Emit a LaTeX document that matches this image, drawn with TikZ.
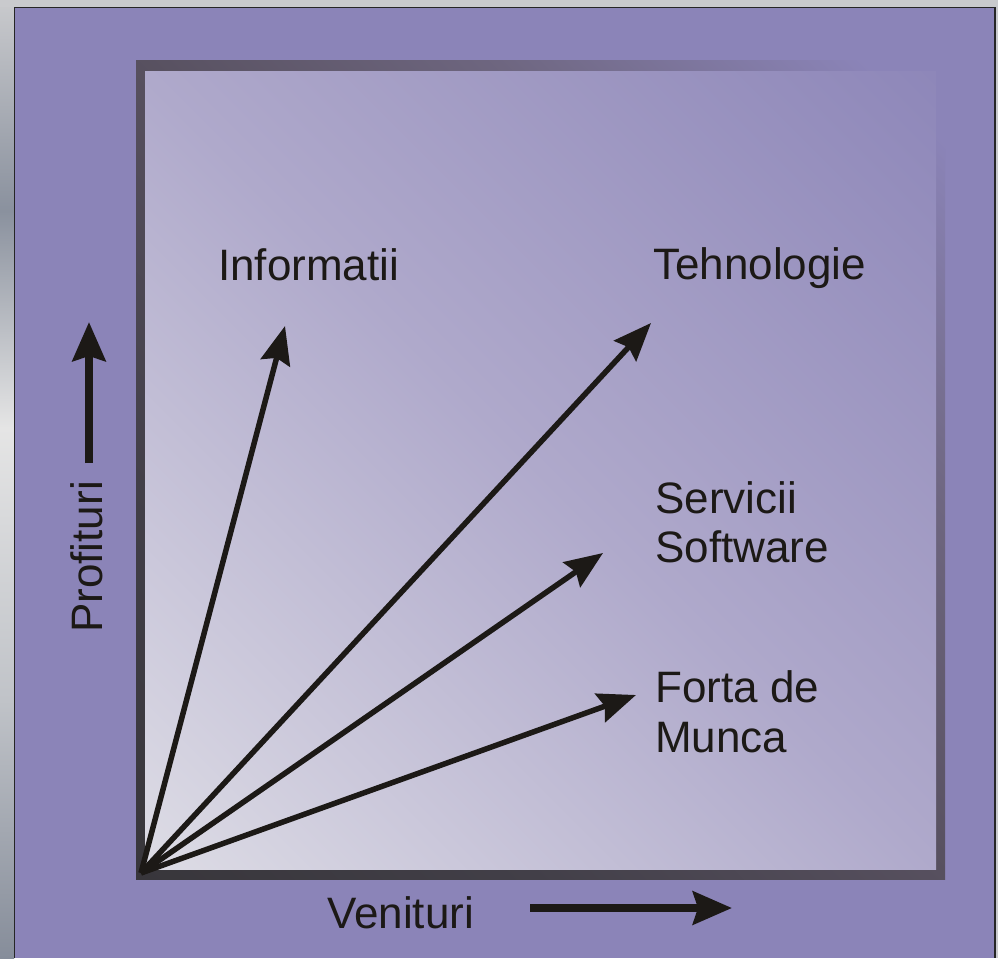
\documentclass[tikz,border=0pt]{standalone}
\usepackage{fontspec}
\setmainfont{Liberation Sans}
\usetikzlibrary{arrows.meta}

\definecolor{bgpurple}{RGB}{139,132,184}
\definecolor{ink}{RGB}{28,25,22}
\definecolor{stripA}{RGB}{201,202,205}
\definecolor{stripB}{RGB}{138,145,158}
\definecolor{stripC}{RGB}{229,229,229}
\definecolor{stripD}{RGB}{216,217,219}
\definecolor{stripE}{RGB}{192,195,200}
\definecolor{stripF}{RGB}{134,141,154}
\definecolor{frameA}{RGB}{56,54,59}
\definecolor{frameB}{RGB}{66,63,72}
\definecolor{frameC}{RGB}{87,80,95}
\definecolor{frameD}{RGB}{110,102,128}
\definecolor{fillA}{RGB}{221,220,229}
\definecolor{fillB}{RGB}{175,169,203}
\definecolor{fillC}{RGB}{142,135,185}

% grey bevel on the left edge
\pgfdeclareverticalshading{sidestrip}{100bp}{%
  color(0bp)=(stripF); color(25bp)=(stripF); color(38.47bp)=(stripE);
  color(47.86bp)=(stripD); color(52.66bp)=(stripC); color(63.99bp)=(stripB);
  color(75bp)=(stripA); color(100bp)=(stripA)}
% frame of the chart, fading out towards the upper right
\pgfdeclarehorizontalshading{framefade}{100bp}{%
  color(0bp)=(frameA); color(14.6bp)=(frameA); color(32bp)=(frameB);
  color(50bp)=(frameC); color(66bp)=(frameD); color(82bp)=(bgpurple);
  color(100bp)=(bgpurple)}
% chart area, light in the lower left corner
\pgfdeclarehorizontalshading{areafade}{100bp}{%
  color(0bp)=(fillA); color(14.6bp)=(fillA); color(50bp)=(fillB);
  color(85.4bp)=(fillC); color(100bp)=(fillC)}

\tikzset{
  label/.style={font=\fontsize{44}{49}\selectfont, text=ink, inner sep=0pt},
  fanarrow/.style={draw=ink, line width=5.5pt,
    -{Stealth[length=38pt, width=30pt, inset=5pt]}},
  axisarrow/.style={draw=ink, line width=7.5pt,
    -{Stealth[length=39pt, width=33pt, inset=5pt]}},
}

\begin{document}
\begin{tikzpicture}[x=1pt, y=-1pt]
  \useasboundingbox (0,0) rectangle (998,958);

  % background and window edges
  \fill[bgpurple] (0,0) rectangle (998,958);
  \shade[shading=sidestrip] (0,0) rectangle (14,958);
  \fill[stripA] (0,0) rectangle (998,7);
  \fill[stripA] (995.5,0) rectangle (998,958);
  \draw[black!85, line width=1.8pt] (14.5,958) -- (14.5,7.5) -- (995,7.5) -- (995,958);

  % chart frame and area
  \shade[shading=framefade, shading angle=45] (136,61) rectangle (945,879);
  \shade[shading=areafade, shading angle=45] (145,71) rectangle (936,869);

  % fan of arrows from the origin
  \coordinate (o) at (141,873);
  \coordinate (tInf) at (285,326);
  \coordinate (tTeh) at (651,323);
  \coordinate (tSer) at (603,553);
  \coordinate (tFor) at (636,695);
  \draw[fanarrow] (o) -- (tInf);
  \draw[fanarrow] (o) -- (tTeh);
  \draw[fanarrow] (o) -- (tSer);
  \draw[fanarrow] (o) -- (tFor);

  % labels
  \node[label, anchor=base west] (inf) at (218,280) {Informatii};
  \node[label, anchor=base west] (teh) at (653,279) {Tehnologie};
  \node[label, anchor=base west] (ser1) at (655,513) {Servicii};
  \node[label, anchor=base west] (ser2) at (655,562) {Software};
  \node[label, anchor=base west] (for1) at (655,702) {Forta de};
  \node[label, anchor=base west] (for2) at (655,752) {Munca};

  % axes
  \node[label, anchor=base west] (ven) at (327,928) {Venituri};
  \coordinate (va) at (530,908);
  \coordinate (vb) at (732,908);
  \draw[axisarrow] (va) -- (vb);

  \node[label, anchor=base west, rotate=90] (pro) at (102,633) {Profituri};
  \coordinate (pa) at (89,463);
  \coordinate (pb) at (89,322);
  \draw[axisarrow] (pa) -- (pb);
\end{tikzpicture}
\end{document}
